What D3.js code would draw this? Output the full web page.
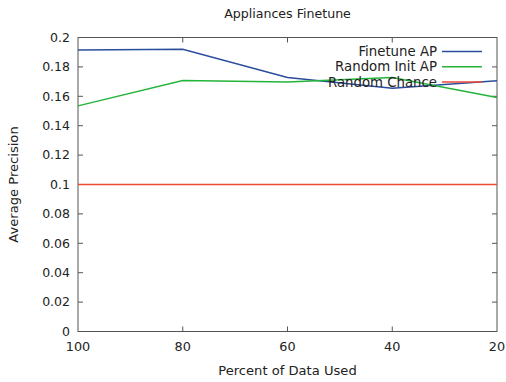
<!DOCTYPE html>
<html>
<head>
<meta charset="utf-8">
<script src="https://cdn.jsdelivr.net/npm/d3@7"></script>
<style>
  body { margin: 0; background: #fff; }
  text { font-family: "DejaVu Sans", sans-serif; fill: #222; }
</style>
</head>
<body>
<svg id="chart" width="506" height="382"></svg>
<script>
// percent of data used (x, reversed axis)
var percents = [100, 80, 60, 40, 20];
var finetuneAP = [0.1915, 0.1920, 0.1728, 0.1655, 0.1705];
var randomInitAP = [0.1535, 0.1708, 0.1698, 0.1728, 0.1592];
var randomChance = [0.1, 0.1, 0.1, 0.1, 0.1];

var xTicks = [100, 80, 60, 40, 20];
var yTicks = [0, 0.02, 0.04, 0.06, 0.08, 0.1, 0.12, 0.14, 0.16, 0.18, 0.2];

var seriesNames = ["Finetune AP", "Random Init AP", "Random Chance"];
var seriesColors = ["#2a4d9c", "#24b43c", "#ee4a36"];

var svg = d3.select("#chart");
// plot area bounds ("top" is taken by window.top, so use pl/pr/pt/pb)
var pl = 78, pr = 497, pt = 37.5, pb = 331.5;

var x = d3.scaleLinear().domain([100, 20]).range([pl, pr]);
var y = d3.scaleLinear().domain([0, 0.2]).range([pb, pt]);

// frame
svg.append("rect")
    .attr("x", pl).attr("y", pt)
    .attr("width", pr - pl).attr("height", pb - pt)
    .attr("fill", "none").attr("stroke", "#555").attr("stroke-width", 1);

// ticks (inward, mirrored)
var tickLen = 5;
var g = svg.append("g").attr("stroke", "#555").attr("stroke-width", 1);
yTicks.forEach(function(t){
    if (t === 0 || t === 0.2) return;
    g.append("line").attr("x1", pl).attr("x2", pl + tickLen).attr("y1", y(t)).attr("y2", y(t));
    g.append("line").attr("x1", pr).attr("x2", pr - tickLen).attr("y1", y(t)).attr("y2", y(t));
});
xTicks.forEach(function(t){
    if (t === 100 || t === 20) return;
    g.append("line").attr("x1", x(t)).attr("x2", x(t)).attr("y1", pb).attr("y2", pb - tickLen);
    g.append("line").attr("x1", x(t)).attr("x2", x(t)).attr("y1", pt).attr("y2", pt + tickLen);
});

// tick labels
svg.selectAll(".ylab").data(yTicks).enter().append("text")
    .attr("x", pl - 8)
    .attr("y", function(d){ return y(d); })
    .attr("dy", "0.35em")
    .attr("text-anchor", "end")
    .style("font-size", "12.5px")
    .text(function(d){ return String(+d.toFixed(2)); });

svg.selectAll(".xlab").data(xTicks).enter().append("text")
    .attr("x", function(d){ return x(d); })
    .attr("y", pb + 19.5)
    .attr("text-anchor", "middle")
    .style("font-size", "12.8px")
    .text(function(d){ return d; });

// titles
svg.append("text").attr("x", (pl + pr) / 2).attr("y", 18)
    .attr("text-anchor", "middle").style("font-size", "12.6px")
    .text("Appliances Finetune");
svg.append("text").attr("x", (pl + pr) / 2).attr("y", 375)
    .attr("text-anchor", "middle").style("font-size", "13.1px")
    .text("Percent of Data Used");
svg.append("text")
    .attr("transform", "translate(18," + ((pt + pb) / 2) + ")rotate(-90)")
    .attr("text-anchor", "middle").style("font-size", "13.1px")
    .text("Average Precision");

// lines
var allSeries = [finetuneAP, randomInitAP, randomChance];
var line = d3.line()
    .x(function(d, i){ return x(percents[i]); })
    .y(function(d){ return y(d); });

// draw red first so blue/green sit on top like the reference
[2, 0, 1].forEach(function(k){
    svg.append("path")
        .datum(allSeries[k])
        .attr("d", line)
        .attr("fill", "none")
        .attr("stroke", seriesColors[k])
        .attr("stroke-width", 1.5);
});

// legend
var legend = svg.append("g");
seriesNames.forEach(function(name, i){
    var ly = 51.5 + i * 15.3;
    legend.append("text")
        .attr("x", 437).attr("y", ly).attr("dy", "0.35em")
        .attr("text-anchor", "end").style("font-size", "13.3px")
        .text(name);
    legend.append("line")
        .attr("x1", 442).attr("x2", 482).attr("y1", ly).attr("y2", ly)
        .attr("stroke", seriesColors[i]).attr("stroke-width", 1.5);
});
</script>
</body>
</html>
